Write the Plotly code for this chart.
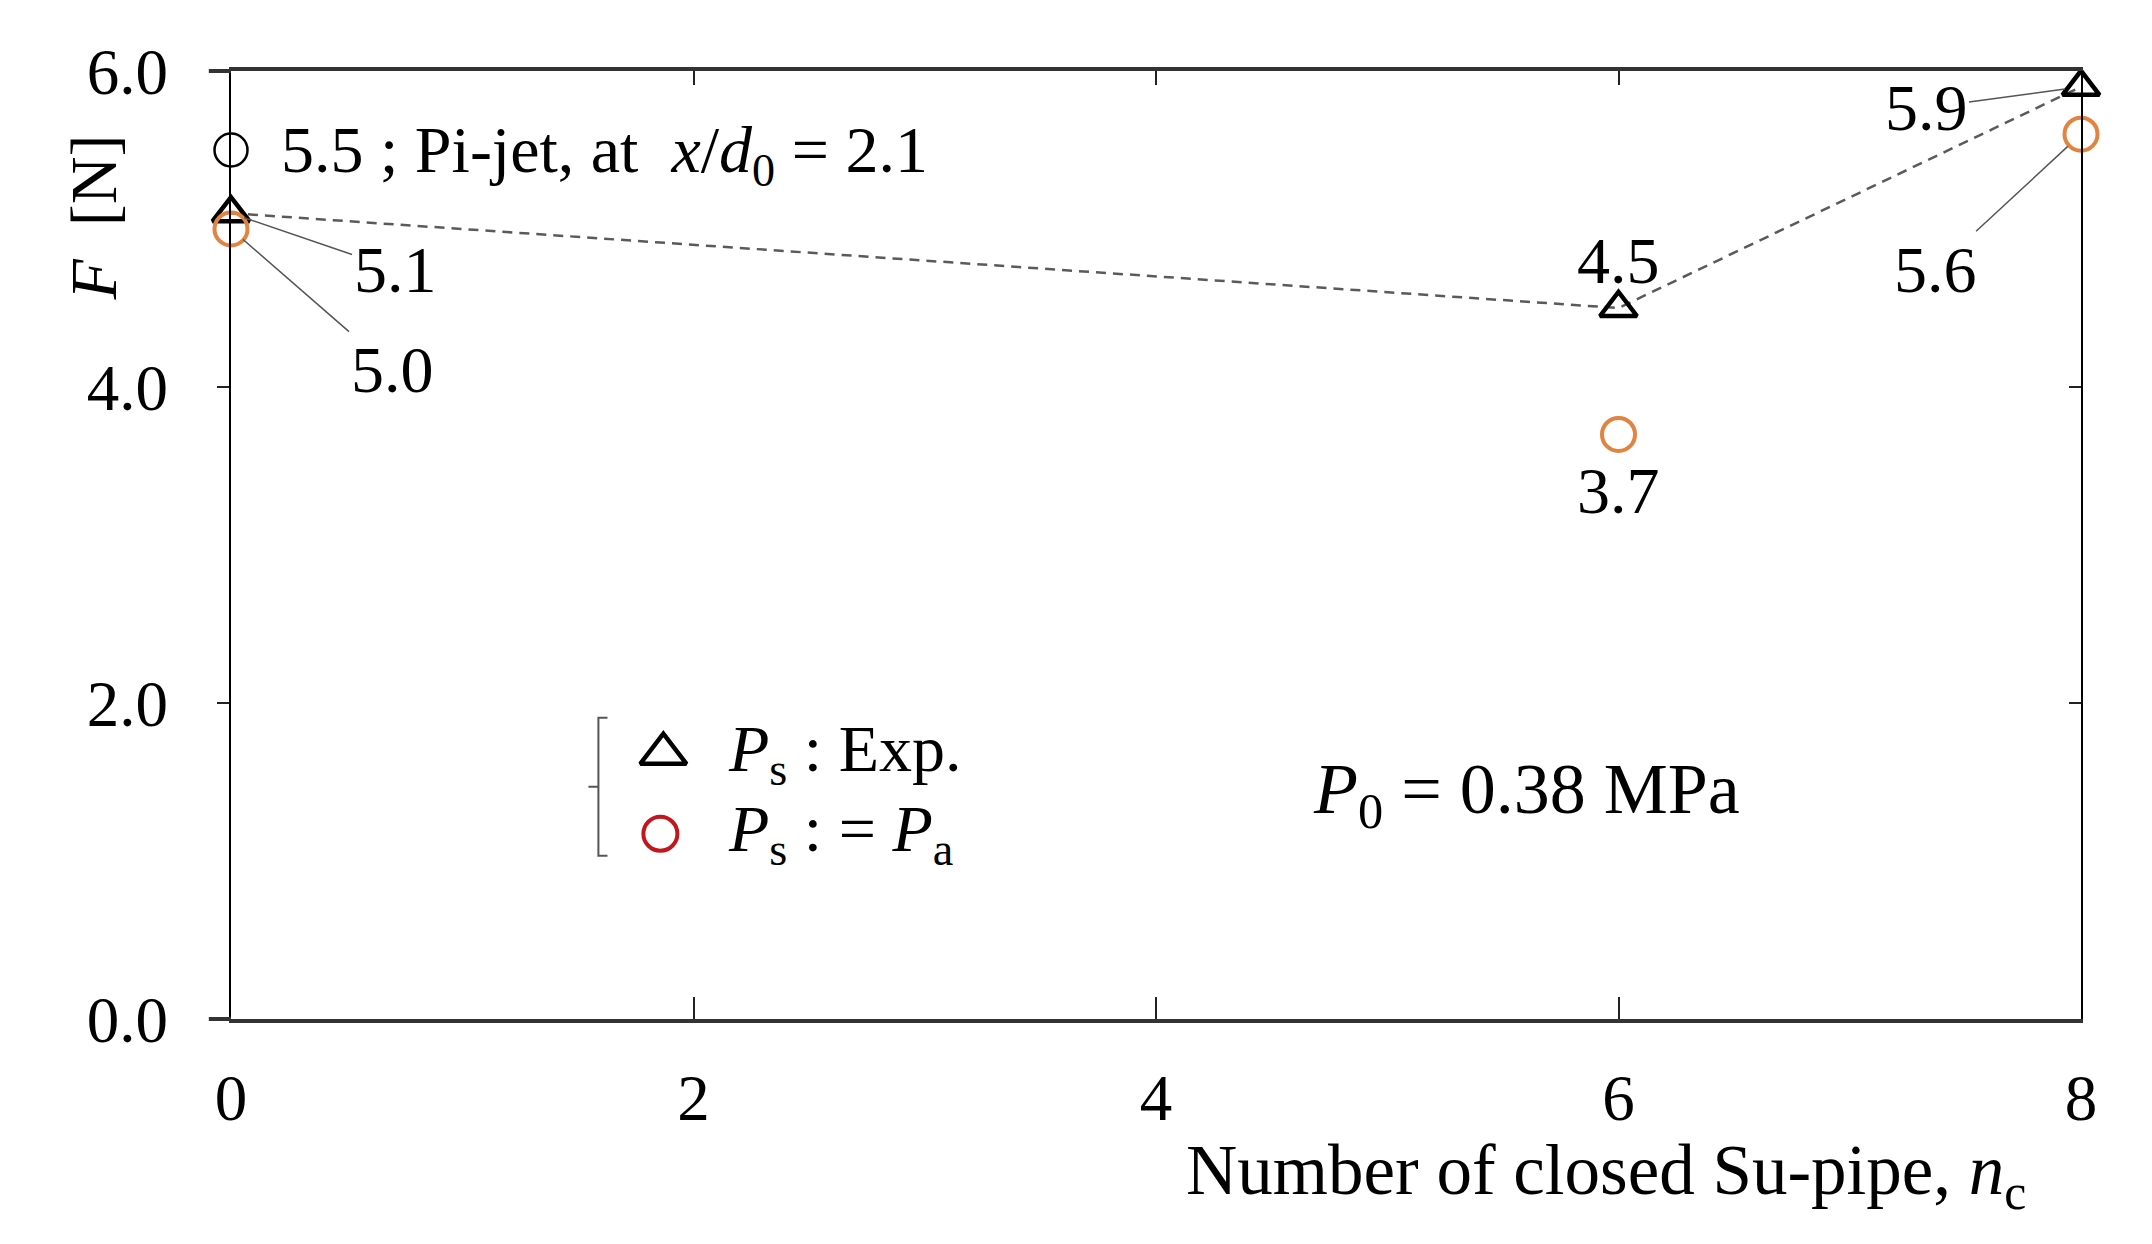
import plotly.graph_objects as go

# ---- data ----
n_closed = [0, 6, 8]
F_exp = [5.1, 4.5, 5.9]          # triangles, Ps : Exp.
F_pa = [5.0, 3.7, 5.6]           # circles, Ps := Pa
pijet_x = [0]
pijet_y = [5.5]
x_ticks = [0, 2, 4, 6, 8]
y_ticks = [0.0, 2.0, 4.0, 6.0]

SERIF = "Liberation Serif"
ORANGE = "#e2833f"
DARKRED = "#c0161c"

W, H = 2152, 1244
L, R, T, B = 231, 71, 71, 225

fig = go.Figure()

# dashed connecting line for Exp.
fig.add_trace(go.Scatter(x=n_closed, y=F_exp, mode="lines",
                         line=dict(color="#5a5a5a", width=2.5, dash="10px,7px"),
                         showlegend=False, hoverinfo="skip", cliponaxis=False))
fig.add_trace(go.Scatter(x=n_closed, y=F_exp, mode="markers",
                         marker=dict(symbol="triangle-up-open", size=32, color="black",
                                     line=dict(color="black", width=4.5)),
                         showlegend=False, cliponaxis=False))
fig.add_trace(go.Scatter(x=n_closed, y=F_pa, mode="markers",
                         marker=dict(symbol="circle-open", size=33, color=ORANGE,
                                     line=dict(color=ORANGE, width=4)),
                         showlegend=False, cliponaxis=False))
fig.add_trace(go.Scatter(x=pijet_x, y=pijet_y, mode="markers",
                         marker=dict(symbol="circle-open", size=33, color="black",
                                     line=dict(color="black", width=2.5)),
                         showlegend=False, cliponaxis=False))

# invisible trace to activate secondary axes (top / right)
fig.add_trace(go.Scatter(x=[None], y=[None], xaxis="x2", yaxis="y2", showlegend=False))

# legend keys on a hidden paper-like axis
fig.add_trace(go.Scatter(x=[0.2337], y=[0.2798], xaxis="x3", yaxis="y3", mode="markers",
                         marker=dict(symbol="triangle-up-open", size=40, color="black",
                                     line=dict(color="black", width=4.5)),
                         showlegend=False, cliponaxis=False))
fig.add_trace(go.Scatter(x=[0.2321], y=[0.1954], xaxis="x3", yaxis="y3", mode="markers",
                         marker=dict(symbol="circle-open", size=34, color=DARKRED,
                                     line=dict(color=DARKRED, width=4)),
                         showlegend=False, cliponaxis=False))

annotations = []
font = dict(family=SERIF, size=66, color="black")

# value labels
label_specs = [
    (n_closed[0], F_exp[0], dict(showarrow=True, ax=164, ay=56, standoff=14)),
    (n_closed[0], F_pa[0], dict(showarrow=True, ax=161, ay=140, standoff=16)),
    (n_closed[1], F_exp[1], dict(showarrow=False, yshift=48)),
    (n_closed[1], F_pa[1], dict(showarrow=False, yshift=-56)),
    (n_closed[2], F_exp[2], dict(showarrow=True, ax=-155, ay=21, standoff=16)),
    (n_closed[2], F_pa[2], dict(showarrow=True, ax=-146, ay=135, standoff=18)),
]
for x, y, opts in label_specs:
    a = dict(x=x, y=y, xref="x", yref="y", text=f"{y:.1f}", font=font,
             arrowhead=0, arrowwidth=1.5, arrowcolor="#555555")
    a.update(opts)
    annotations.append(a)

annotations.append(dict(x=pijet_x[0], y=pijet_y[0], xref="x", yref="y",
                        text=f"{pijet_y[0]:.1f} ; Pi-jet, at  <i>x</i>/<i>d</i><sub>0</sub> = 2.1",
                        showarrow=False, xanchor="left", yanchor="middle", xshift=48, yshift=-4,
                        font=font))

annotations.append(dict(x=0.584, y=0.2376, xref="paper", yref="paper",
                        text="<i>P</i><sub>0</sub> = 0.38 MPa", showarrow=False,
                        xanchor="left", yanchor="middle",
                        font=dict(family=SERIF, size=72, color="black")))

# legend texts
annotations.append(dict(x=0.2673, y=0.2798, xref="paper", yref="paper",
                        text="<i>P</i><sub>s</sub> : Exp.", showarrow=False,
                        xanchor="left", yanchor="middle", font=font))
annotations.append(dict(x=0.2673, y=0.1954, xref="paper", yref="paper",
                        text="<i>P</i><sub>s</sub> : = <i>P</i><sub>a</sub>", showarrow=False,
                        xanchor="left", yanchor="middle", font=font))

# axis titles
annotations.append(dict(x=-0.0744, y=0.8458, xref="paper", yref="paper",
                        text="<i>F</i>  [N]", textangle=-90, showarrow=False,
                        xanchor="center", yanchor="middle", font=font))
annotations.append(dict(x=0.9716, y=-0.1647, xref="paper", yref="paper",
                        text="Number of closed Su-pipe, <i>n</i><sub>c</sub>", showarrow=False,
                        xanchor="right", yanchor="middle",
                        font=dict(family=SERIF, size=71, color="black")))

shapes = [
    # bracket for legend
    dict(type="path", xref="paper", yref="paper",
         path="M 0.2035 0.3178 L 0.1986 0.3178 L 0.1986 0.2450 L 0.1932 0.2450 "
              "M 0.1986 0.2450 L 0.1986 0.1721 L 0.2035 0.1721",
         line=dict(color="#555555", width=2)),
    # left extensions of top and bottom frame lines
    dict(type="line", xref="paper", yref="paper", x0=-0.012, x1=0, y0=0, y1=0,
         line=dict(color="#333333", width=4)),
    dict(type="line", xref="paper", yref="paper", x0=-0.012, x1=0, y0=1, y1=1,
         line=dict(color="#333333", width=4)),
]

fig.update_layout(
    width=W, height=H,
    margin=dict(l=L, r=R, t=T, b=B),
    paper_bgcolor="white", plot_bgcolor="white",
    showlegend=False,
    font=dict(family=SERIF, size=65, color="black"),
    xaxis=dict(range=[0, 8], tickvals=x_ticks, ticktext=[str(v) for v in x_ticks],
               showgrid=False, zeroline=False, showline=True, linewidth=4, linecolor="#333333",
               ticks="inside", ticklen=22, tickwidth=2, tickcolor="#222222", automargin=False,
               ticklabelstandoff=19, tickfont=dict(family=SERIF, size=65, color="black")),
    xaxis2=dict(range=[0, 8], overlaying="x", side="top", tickvals=x_ticks,
                showticklabels=False, showgrid=False, zeroline=False, showline=True,
                linewidth=4, linecolor="#333333", ticks="inside", ticklen=14, tickwidth=2,
                tickcolor="#222222", automargin=False),
    yaxis=dict(range=[0, 6], tickvals=y_ticks, ticktext=[f"{v:.1f}" for v in y_ticks],
               showgrid=False, zeroline=False, showline=True, linewidth=2, linecolor="black",
               ticks="outside", ticklen=12, tickwidth=2, tickcolor="#222222", automargin=False,
               ticklabelstandoff=36, tickfont=dict(family=SERIF, size=65, color="black")),
    yaxis2=dict(range=[0, 6], overlaying="y", side="right", tickvals=y_ticks,
                showticklabels=False, showgrid=False, zeroline=False, showline=True,
                linewidth=2, linecolor="black", ticks="inside", ticklen=12, tickwidth=2,
                tickcolor="#222222", automargin=False),
    xaxis3=dict(range=[0, 1], overlaying="x", visible=False, fixedrange=True),
    yaxis3=dict(range=[0, 1], overlaying="y", visible=False, fixedrange=True),
    annotations=annotations,
    shapes=shapes,
)

fig.write_html("out.html", config={"displayModeBar": False},
               post_script="document.body.style.margin='0px';")
